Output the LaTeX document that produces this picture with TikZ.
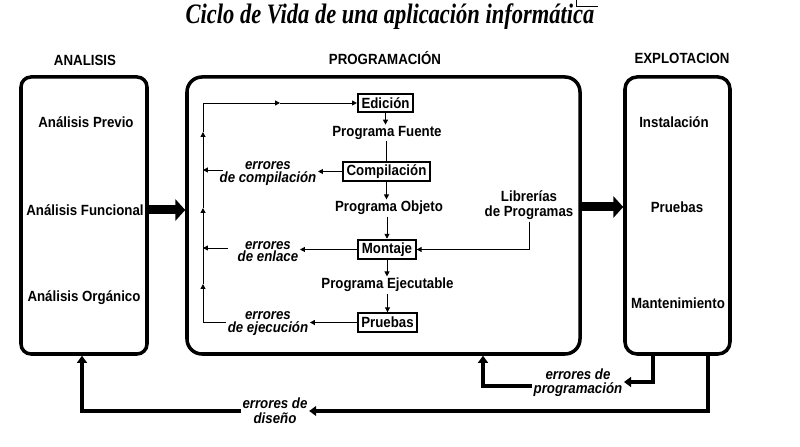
\documentclass[tikz,border=0pt]{standalone}
\usepackage{fontspec}
\setmainfont{Liberation Serif}
\setsansfont[FakeStretch=0.9]{Liberation Sans}
\newfontfamily\titlefont[FakeStretch=0.8]{Liberation Serif}
\usetikzlibrary{arrows.meta, positioning}

\tikzset{
  phase/.style={draw, line width=2.5pt, rectangle, minimum height=69.25mm},
  phasetitle/.style={font=\sffamily\bfseries\fontsize{10.5}{11}\selectfont, inner sep=1pt},
  phaseitem/.style={font=\sffamily\bfseries\fontsize{10.5}{10.7}\selectfont, inner sep=1pt},
  errtext/.style={font=\sffamily\bfseries\itshape\fontsize{10.5}{9}\selectfont, align=center, inner sep=1pt},
  stepbox/.style={draw, line width=1.5pt, inner xsep=2.5pt, inner ysep=2pt, minimum height=13pt, font=\sffamily\bfseries\fontsize{10.5}{11}\selectfont},
  flow/.style={line width=0.7pt, -{Triangle[length=3.5pt,width=3.5pt]}},
  backline/.style={line width=0.7pt},
  feedback/.style={line width=2.8pt, -{Triangle[length=5pt,width=7pt]}},
  bigarrow/.style={line width=6.4pt, -{Triangle[length=7pt,width=15pt]}},
}

\begin{document}
\begin{tikzpicture}[x=0.25mm, y=-0.25mm]
\useasboundingbox (0,0) rectangle (800,447);

\node[font=\titlefont\bfseries\itshape\fontsize{20}{22}\selectfont] (title) at (390,17) {Ciclo de Vida de una aplicación informática};
\draw[backline] (576,0) -- (576,6) -- (598,6);

% analisis
\node[phase, minimum width=31.5mm, rounded corners=2.5mm] (analisis) at (84,215.5) {};
\node[phasetitle] (t-analisis) at (85,60) {ANALISIS};
\node[phaseitem] (previo) at (86,122) {Análisis Previo};
\node[phaseitem] (funcional) at (85,210) {Análisis Funcional};
\node[phaseitem] (organico) at (84,298) {Análisis Orgánico};

% programacion
\node[phase, minimum width=98.25mm, rounded corners=3.75mm] (programacion) at (383.5,215.5) {};
\node[phasetitle] (t-programacion) at (385,58) {PROGRAMACIÓN};

\node[stepbox] (edicion) at (385.5,103) {Edición};
\node[phaseitem] (fuente) at (387,133) {Programa Fuente};
\node[stepbox] (compilacion) at (386.5,171.5) {Compilación};
\node[phaseitem] (objeto) at (389,208) {Programa Objeto};
\node[stepbox] (montaje) at (387,249.5) {Montaje};
\node[phaseitem] (ejecutable) at (387.5,285) {Programa Ejecutable};
\node[stepbox] (pruebas) at (387.5,322.5) {Pruebas};
\node[phaseitem, align=center] (librerias) at (529,205.5) {Librerías\\de Programas};

\node[errtext] (e-comp) at (268,173.5) {errores\\de compilación};
\node[errtext] (e-enl) at (268,251.5) {errores\\de enlace};
\node[errtext] (e-ejec) at (268,323.5) {errores\\de ejecución};

\draw[flow] (edicion.south) -- (edicion.south |- fuente.north);
\draw[backline] (compilacion.north |- fuente.south) -- (compilacion.north);
\draw[flow] (compilacion.south) -- (compilacion.south |- objeto.north);
\draw[flow] (montaje.north |- objeto.south) -- (montaje.north);
\draw[flow] (montaje.south) -- (montaje.south |- ejecutable.north);
\draw[flow] (pruebas.north |- ejecutable.south) -- (pruebas.north);
\draw[flow] (librerias.south) |- (montaje.east);

\draw[flow] (compilacion.west) -- (compilacion.west -| e-comp.east);
\draw[flow] (montaje.west) -- (montaje.west -| e-enl.east);
\draw[flow] (pruebas.west) -- (pruebas.west -| e-ejec.east);

% vuelta a edicion
\coordinate (lb) at (203,322);
\coordinate (l1) at (203,284);
\coordinate (l2) at (203,208);
\coordinate (l3) at (203,132);
\coordinate (ltop) at (203,103);
\coordinate (lmid) at (280,103);
\coordinate (comp-l) at (223,170);
\coordinate (enl-l) at (228,248);
\draw[backline] (lb -| e-ejec.west) -- (lb);
\draw[flow] (enl-l) -- (enl-l -| lb);
\draw[flow] (comp-l) -- (comp-l -| lb);
\draw[flow] (lb) -- (l1);
\draw[flow] (l1) -- (l2);
\draw[flow] (l2) -- (l3);
\draw[backline] (l3) -- (ltop);
\draw[flow] (ltop) -- (lmid);
\draw[flow] (lmid) -- (edicion.west);

% explotacion
\node[phase, minimum width=26.25mm, rounded corners=3mm] (explotacion) at (677.5,215.5) {};
\node[phasetitle] (t-explotacion) at (682,58) {EXPLOTACION};
\node[phaseitem] (instalacion) at (674,122) {Instalación};
\node[phaseitem] (expl-pruebas) at (677,207) {Pruebas};
\node[phaseitem] (mantenimiento) at (678,303) {Mantenimiento};

\draw[bigarrow] (analisis.east |- funcional) -- (programacion.west |- funcional);
\draw[bigarrow] (programacion.east |- expl-pruebas) -- (explotacion.west |- expl-pruebas);

% errores de programacion y de diseno
\node[errtext, font=\sffamily\bfseries\itshape\fontsize{10.5}{10}\selectfont] (e-prog) at (578,383) {errores de\\programación};
\node[errtext, font=\sffamily\bfseries\itshape\fontsize{10.5}{10.5}\selectfont] (e-dis) at (275,411) {errores de\\diseño};
\coordinate (xa) at (653,382);
\coordinate (xb) at (708,411);
\coordinate (pa) at (483,386);
\coordinate (aa) at (82,411);
\draw[feedback] (explotacion.south -| xa) |- (e-prog.east |- xa);
\draw[feedback] (e-prog.west |- pa) -| (programacion.south -| pa);
\draw[feedback] (explotacion.south -| xb) |- (e-dis.east |- xb);
\draw[feedback] (e-dis.west |- aa) -| (analisis.south -| aa);
\end{tikzpicture}
\end{document}
